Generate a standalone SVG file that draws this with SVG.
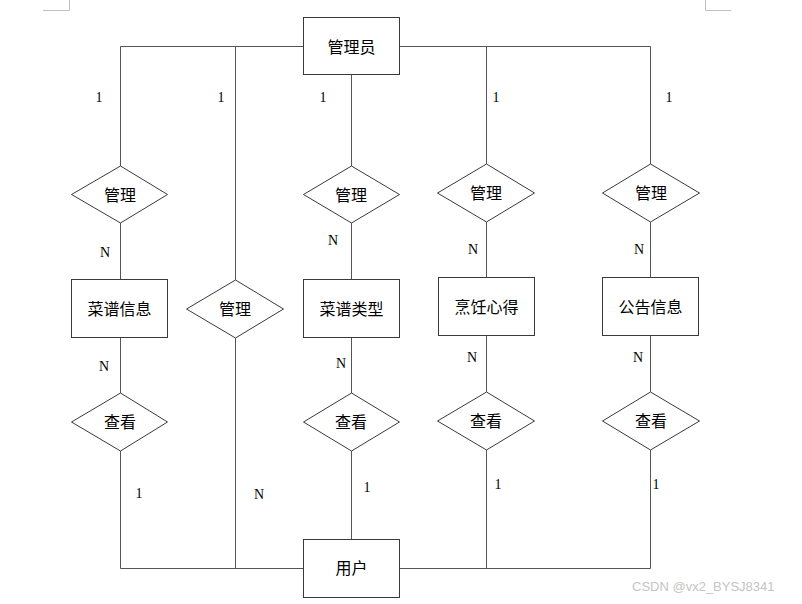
<svg xmlns="http://www.w3.org/2000/svg" width="802" height="604" viewBox="0 0 802 604">
<style>
.bg{fill:#ffffff}
.shape{fill:#ffffff;stroke:#3a3a3a;stroke-width:1}
.line{fill:none;stroke:#555555;stroke-width:1}
.mark{fill:none;stroke:#c0c0c0;stroke-width:1}
.t{font-family:"Noto Sans CJK SC","Noto Sans",sans-serif;font-size:16px;fill:#000;text-anchor:middle;dominant-baseline:central}
.c{font-family:"Liberation Serif","DejaVu Serif",serif;font-size:14px;fill:#000;text-anchor:middle;dominant-baseline:central}
.wm{font-family:"Liberation Sans",Arial,sans-serif;font-size:13px;fill:#c4c4c4}
</style>
<rect class="bg" x="0" y="0" width="802" height="604"/>
<path class="mark" d="M43 10.5H69.5V0M731 10.5H705.5V0"/>
<g id="connectors">
<path class="line" d="M303 46.5H120.5V166M399 46.5H650.5V164M486.5 46.5V164M235.5 46.5V280M351.5 74V166"/>
<path class="line" d="M120.5 223V279M351.5 223V279M486.5 222V277M650.5 222V277"/>
<path class="line" d="M120.5 338V393M351.5 338V393M486.5 335V392M650.5 335V392"/>
<path class="line" d="M120.5 451V568.5H303M235.5 338V568.5M351.5 451V539M399 568.5H650.5V450M486.5 450V568.5"/>
<text class="c" x="99" y="97">1</text>
<text class="c" x="221" y="97">1</text>
<text class="c" x="323" y="97">1</text>
<text class="c" x="496" y="97">1</text>
<text class="c" x="669" y="97">1</text>
<text class="c" x="105" y="252">N</text>
<text class="c" x="333" y="240">N</text>
<text class="c" x="473" y="249">N</text>
<text class="c" x="639" y="249">N</text>
<text class="c" x="104" y="366">N</text>
<text class="c" x="341" y="363">N</text>
<text class="c" x="472" y="357">N</text>
<text class="c" x="638" y="357">N</text>
<text class="c" x="139" y="493">1</text>
<text class="c" x="259" y="494">N</text>
<text class="c" x="367" y="487">1</text>
<text class="c" x="498" y="484">1</text>
<text class="c" x="656" y="484">1</text>
</g>
<g id="admin"><rect class="shape" x="303.5" y="17.5" width="96" height="57"/><text class="t" x="351.5" y="46">管理员</text></g>
<g id="manage1"><polygon class="shape" points="120.5,166 167.5,194.5 120.5,223 71.5,194.5"/><text class="t" x="120" y="194">管理</text></g>
<g id="manage2"><polygon class="shape" points="235.5,280 283.5,309 235.5,338 186.5,309"/><text class="t" x="235" y="308">管理</text></g>
<g id="manage3"><polygon class="shape" points="351.5,166 399.5,194.5 351.5,223 303.5,194.5"/><text class="t" x="351" y="194">管理</text></g>
<g id="manage4"><polygon class="shape" points="486.5,164 534.5,193 486.5,222 437.5,193"/><text class="t" x="486" y="192">管理</text></g>
<g id="manage5"><polygon class="shape" points="650.5,164 699.5,193 650.5,222 602.5,193"/><text class="t" x="651" y="192">管理</text></g>
<g id="recipe"><rect class="shape" x="71.5" y="279.5" width="96" height="58"/><text class="t" x="119.5" y="308">菜谱信息</text></g>
<g id="recipeType"><rect class="shape" x="303.5" y="279.5" width="96" height="58"/><text class="t" x="351.5" y="308">菜谱类型</text></g>
<g id="cooking"><rect class="shape" x="438.5" y="277.5" width="96" height="58"/><text class="t" x="486.5" y="306">烹饪心得</text></g>
<g id="notice"><rect class="shape" x="602.5" y="277.5" width="96" height="58"/><text class="t" x="650.5" y="306">公告信息</text></g>
<g id="view1"><polygon class="shape" points="120.5,393 167.5,422 120.5,451 71.5,422"/><text class="t" x="120" y="421">查看</text></g>
<g id="view2"><polygon class="shape" points="351.5,393 399.5,422 351.5,451 303.5,422"/><text class="t" x="351" y="421">查看</text></g>
<g id="view3"><polygon class="shape" points="486.5,392 534.5,421 486.5,450 437.5,421"/><text class="t" x="486" y="420">查看</text></g>
<g id="view4"><polygon class="shape" points="650.5,392 699.5,421 650.5,450 602.5,421"/><text class="t" x="651" y="420">查看</text></g>
<g id="user"><rect class="shape" x="303.5" y="539.5" width="96" height="58"/><text class="t" x="351.5" y="567">用户</text></g>
<text class="wm" x="632" y="591">CSDN @vx2_BYSJ8341</text>
</svg>
